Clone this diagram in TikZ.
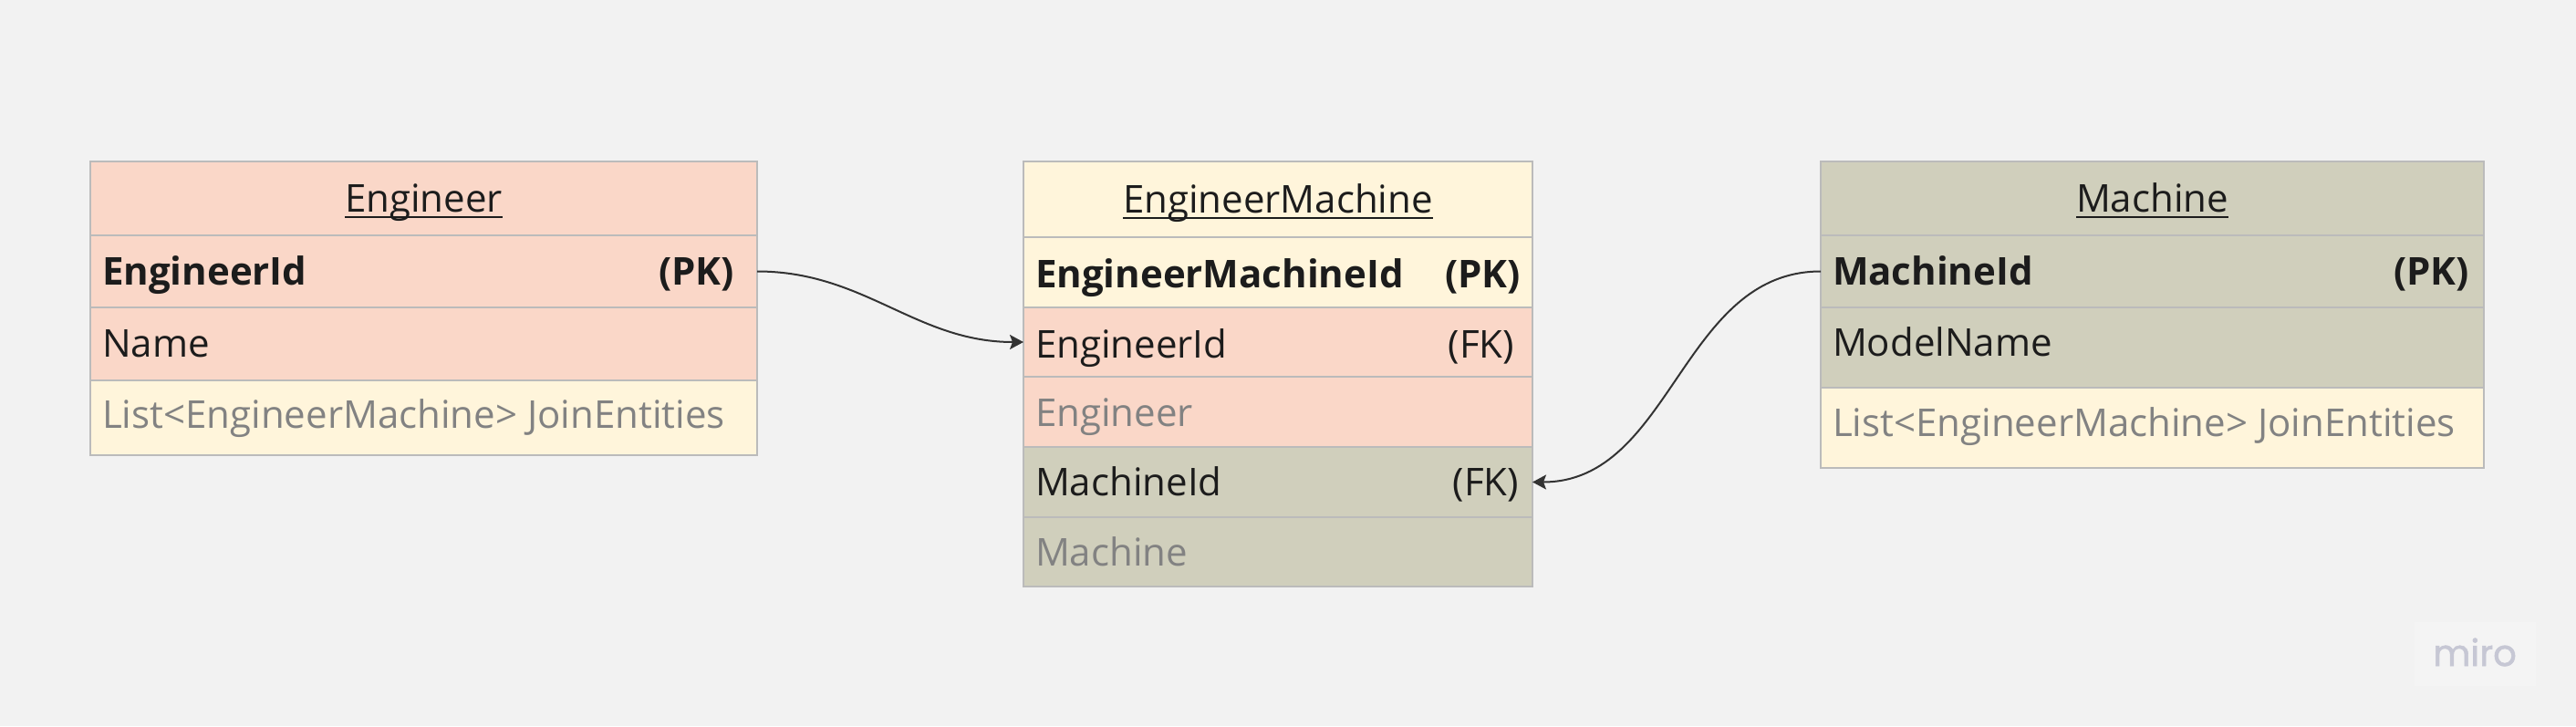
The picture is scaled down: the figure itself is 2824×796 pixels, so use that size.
\documentclass[tikz,border=0pt]{standalone}
\usepackage{fontspec}
\setmainfont{Open Sans}
\newfontfamily\logofont[FakeBold=1.5]{Poppins}
\usetikzlibrary{arrows.meta}
\definecolor{bg}{HTML}{F2F2F2}
\definecolor{pinkc}{HTML}{FAD7C8}
\definecolor{creamc}{HTML}{FFF5DB}
\definecolor{khakic}{HTML}{D0CFBC}
\definecolor{linec}{HTML}{BBBBBB}
\definecolor{darktxt}{HTML}{1C1C1C}
\definecolor{graytxt}{HTML}{828282}
\definecolor{connc}{HTML}{333333}
\definecolor{logoc}{HTML}{C6C7D4}
\definecolor{logobox}{HTML}{F4F4F4}
\tikzset{
  cell/.style={draw=linec, line width=1.5pt, rectangle, inner sep=0pt, outer sep=0pt, anchor=north west},
  txt/.style={inner sep=0pt, outer sep=0pt, text=darktxt, font=\fontsize{42}{50}\selectfont},
  gtxt/.style={txt, text=graytxt},
  btxt/.style={txt, font=\fontsize{42}{50}\selectfont\bfseries},
  uline/.style={draw=darktxt, line width=2pt},
  conn/.style={draw=connc, line width=2pt, -{Stealth[length=15pt,width=16pt,inset=3pt]}},
}
\begin{document}
\begin{tikzpicture}[x=1pt,y=-1pt]
\fill[bg] (0,0) rectangle (2824,796);
\useasboundingbox (0,0) rectangle (2824,796);

% ---------- Engineer ----------
\node[cell, fill=pinkc, minimum width=731pt, minimum height=81pt] (e0) at (99,177) {};
\node[cell, fill=pinkc, minimum width=731pt, minimum height=79pt] (e1) at (99,258) {};
\node[cell, fill=pinkc, minimum width=731pt, minimum height=80pt] (e2) at (99,337) {};
\node[cell, fill=creamc, minimum width=731pt, minimum height=82pt] (e3) at (99,417) {};
\node[txt, anchor=base] (e0t) at (464.5,232) {Engineer};
\draw[uline] ([yshift=-6pt]e0t.base west) -- ([yshift=-6pt]e0t.base east);
\node[btxt, anchor=base west] (e1t) at (112,312) {EngineerId};
\node[btxt, anchor=base east] (e1k) at (805,312) {(PK)};
\node[txt, anchor=base west] (e2t) at (112,391) {Name};
\node[gtxt, anchor=base west] (e3t) at (112,469) {List<EngineerMachine> JoinEntities};

% ---------- EngineerMachine ----------
\node[cell, fill=creamc, minimum width=558pt, minimum height=83pt] (em0) at (1122,177) {};
\node[cell, fill=creamc, minimum width=558pt, minimum height=77pt] (em1) at (1122,260) {};
\node[cell, fill=pinkc, minimum width=558pt, minimum height=76pt] (em2) at (1122,337) {};
\node[cell, fill=pinkc, minimum width=558pt, minimum height=77pt] (em3) at (1122,413) {};
\node[cell, fill=khakic, minimum width=558pt, minimum height=77pt] (em4) at (1122,490) {};
\node[cell, fill=khakic, minimum width=558pt, minimum height=76pt] (em5) at (1122,567) {};
\node[txt, anchor=base] (em0t) at (1401,233) {EngineerMachine};
\draw[uline] ([yshift=-6pt]em0t.base west) -- ([yshift=-6pt]em0t.base east);
\node[btxt, anchor=base west] (em1t) at (1135,315) {EngineerMachineId};
\node[btxt, anchor=base east] (em1k) at (1667,315) {(PK)};
\node[txt, anchor=base west] (em2t) at (1135,392) {EngineerId};
\node[txt, anchor=base east] (em2k) at (1660,392) {(FK)};
\node[gtxt, anchor=base west] (em3t) at (1135,467) {Engineer};
\node[txt, anchor=base west] (em4t) at (1135,543) {MachineId};
\node[txt, anchor=base east] (em4k) at (1665,543) {(FK)};
\node[gtxt, anchor=base west] (em5t) at (1135,620) {Machine};

% ---------- Machine ----------
\node[cell, fill=khakic, minimum width=727pt, minimum height=81pt] (ma0) at (1996,177) {};
\node[cell, fill=khakic, minimum width=727pt, minimum height=79pt] (ma1) at (1996,258) {};
\node[cell, fill=khakic, minimum width=727pt, minimum height=88pt] (ma2) at (1996,337) {};
\node[cell, fill=creamc, minimum width=727pt, minimum height=88pt] (ma3) at (1996,425) {};
\node[txt, anchor=base] (ma0t) at (2359.5,232) {Machine};
\draw[uline] ([yshift=-6pt]ma0t.base west) -- ([yshift=-6pt]ma0t.base east);
\node[btxt, anchor=base west] (ma1t) at (2009,312) {MachineId};
\node[btxt, anchor=base east] (ma1k) at (2707,312) {(PK)};
\node[txt, anchor=base west] (ma2t) at (2009,390) {ModelName};
\node[gtxt, anchor=base west] (ma3t) at (2009,478) {List<EngineerMachine> JoinEntities};

% ---------- connectors ----------
\draw[conn] (e1.east) to[out=0,in=180] (em2.west);
\draw[conn] (ma1.west) to[out=180,in=0] (em4.east);

% ---------- logo ----------
\node[fill=logobox, inner sep=0pt, outer sep=0pt, minimum width=133pt, minimum height=70pt, anchor=north west] (logobg) at (2647,682) {};
\node[inner sep=0pt, anchor=base, text=logoc, font=\logofont\fontsize{40}{48}\selectfont] (logo) at (2713,730) {miro};
\end{tikzpicture}
\end{document}
